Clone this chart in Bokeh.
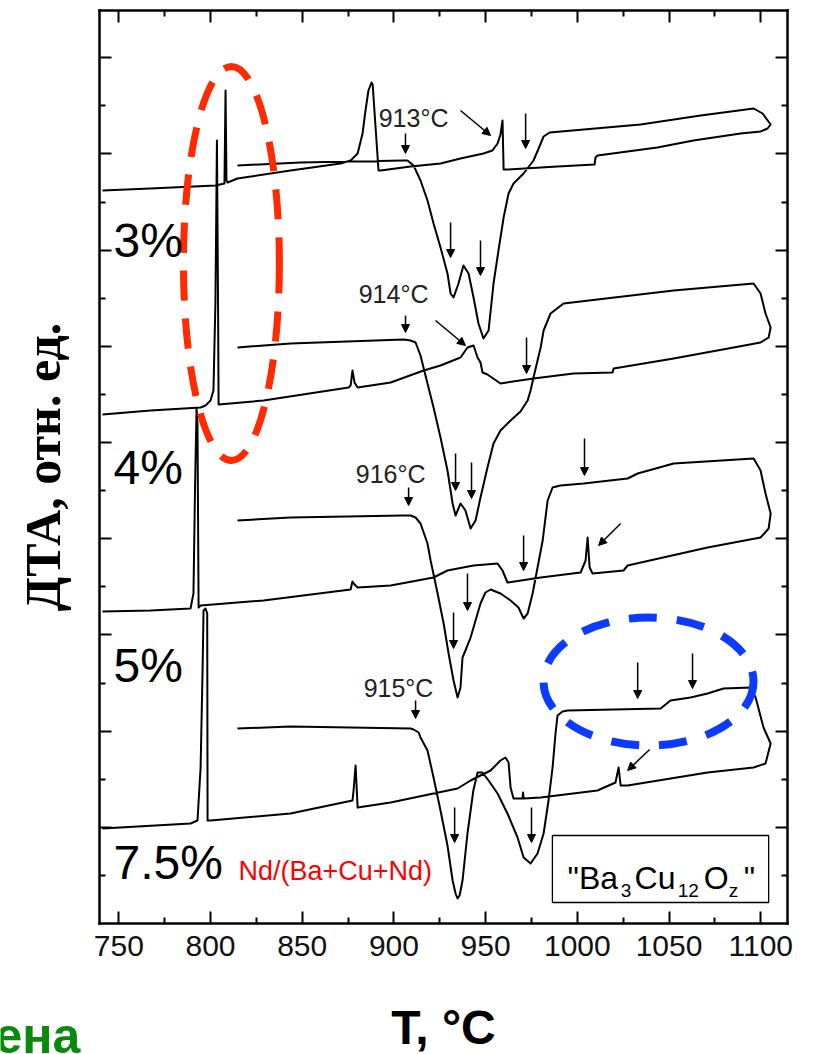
from bokeh.plotting import figure
from bokeh.models import (Range1d, LinearAxis, FixedTicker, Arrow, NormalHead,
                          ColumnDataSource, CustomLabelingPolicy)
from bokeh.core.properties import value
from bokeh.embed import file_html
from bokeh.resources import INLINE

# ---------------- DTA curves (temperature, signal in relative units) ----------------
# Each sample: heating run (lower T -> upper T, incl. the turn at the top of the run)
# followed by the cooling run (upper T -> lower T).

# 3 % Nd
t_heat_3 = [814.7, 849.0, 905.2, 907.4, 910.7, 914.5, 918.3, 921.6, 925.4, 929.2,
            930.9, 932.5, 935.2, 937.9, 940.7, 943.4, 946.1, 948.8, 951.6, 954.3,
            957.0, 959.8, 962.5, 965.2, 970.7, 976.1, 978.9, 981.6, 984.9, 1034.5,
            1067.2, 1096.1, 1101.0, 1105.4, 1103.7]
dta_heat_3 = [758, 761, 763, 763, 758, 743, 723, 700, 676, 650,
              630, 626, 640, 658, 650, 626, 600, 585, 593, 640,
              673, 706, 730, 740, 750, 763, 775, 787, 791, 799,
              808, 815, 810, 799, 795]
t_cool_3 = [1099.9, 1089.0, 1063.3, 1043.6, 1011.0, 1009.9, 1009.4, 989.2, 961.9, 959.8,
            959.2, 958.1, 956.5, 953.7, 948.8, 936.3, 925.4, 909.1, 892.7, 891.6,
            888.4, 887.8, 886.1, 884.5, 882.9, 880.2, 876.4, 870.9, 843.6, 814.7,
            809.3, 808.7, 808.2, 807.6, 802.7, 767.3, 741.1]
dta_cool_3 = [792, 790, 783, 776, 768, 766, 759, 757, 754, 754,
              803, 789, 780, 773, 770, 765, 760, 757, 753, 753,
              839, 841, 833, 813, 790, 770, 763, 760, 753, 745,
              741, 743, 833, 740, 738, 735, 733]

# 4 % Nd
t_heat_4 = [814.7, 843.6, 905.2, 909.1, 911.8, 914.5, 918.3, 921.6, 925.4, 929.2,
            932.0, 933.6, 935.2, 936.3, 939.0, 941.8, 944.5, 947.2, 951.0, 954.3,
            958.1, 963.6, 969.0, 972.9, 974.5, 976.1, 978.3, 980.0, 981.6, 985.4,
            992.5, 1052.5, 1096.1, 1099.9, 1102.6, 1105.4, 1104.3]
dta_heat_4 = [576, 580, 584, 583, 581, 568, 540, 516, 486, 453,
              420, 408, 415, 420, 413, 395, 403, 426, 456, 480,
              493, 503, 512, 523, 533, 546, 563, 576, 593, 610,
              620, 633, 640, 630, 610, 596, 586]
t_cool_4 = [1099.9, 1085.2, 1052.5, 1019.8, 1019.2, 997.9, 976.1, 958.1, 951.0, 948.3,
            947.2, 945.6, 943.4, 940.1, 936.3, 925.4, 916.2, 898.2, 880.2, 878.5,
            877.4, 876.4, 875.3, 828.9, 804.4, 804.1, 803.5, 802.7, 801.6, 800.0,
            797.3, 794.6, 767.3, 741.1]
dta_cool_4 = [581, 576, 565, 555, 551, 550, 545, 540, 549, 551,
              561, 566, 578, 576, 566, 558, 553, 541, 536, 541,
              553, 538, 536, 523, 519, 623, 783, 623, 533, 523,
              518, 516, 513, 509]

# 5 % Nd
t_heat_5 = [814.7, 843.6, 905.2, 909.1, 911.8, 914.5, 918.3, 920.0, 923.8, 927.1,
            929.8, 932.5, 934.7, 936.3, 937.4, 939.0, 941.8, 944.5, 947.2, 949.9,
            952.7, 958.1, 963.6, 967.9, 970.7, 972.9, 975.6, 978.3, 981.1, 983.8,
            986.5, 990.8, 1003.4, 1027.4, 1032.9, 1052.5, 1096.1, 1099.9, 1102.6, 1105.4,
            1104.3]
dta_heat_5 = [403, 406, 408, 408, 406, 400, 380, 363, 330, 300,
              270, 243, 226, 236, 266, 273, 286, 303, 320, 331,
              334, 330, 323, 316, 305, 310, 330, 356, 383, 423,
              436, 438, 440, 445, 450, 460, 465, 453, 430, 410,
              395]
t_cool_5 = [1099.9, 1071.0, 1027.4, 1025.2, 1008.3, 1006.7, 1005.6, 1004.5, 1001.8, 980.0,
            961.9, 959.2, 956.5, 943.4, 929.2, 921.6, 898.2, 880.2, 878.5, 877.4,
            876.4, 828.9, 794.6, 793.5, 792.9, 792.4, 791.6, 790.7, 789.1, 767.3,
            741.1]
dta_cool_5 = [386, 376, 358, 353, 350, 356, 386, 363, 351, 346,
              341, 353, 360, 358, 353, 346, 338, 336, 339, 342,
              334, 323, 318, 316, 500, 515, 440, 330, 315, 313,
              312]

# 7.5 % Nd
t_heat_7 = [814.7, 843.6, 909.1, 910.7, 913.5, 914.5, 918.3, 921.6, 925.4, 929.2,
            932.0, 933.6, 934.7, 935.8, 937.4, 940.1, 943.3, 945.6, 948.3, 951.6,
            956.5, 961.9, 967.4, 970.7, 974.5, 978.3, 981.6, 984.3, 986.5, 988.1,
            989.2, 991.9, 994.7, 1045.4, 1050.8, 1061.7, 1071.0, 1079.7, 1094.5, 1097.2,
            1101.5, 1105.4, 1102.6]
dta_heat_7 = [195, 197, 195, 194, 191, 186, 173, 146, 113, 78,
              43, 30, 25, 28, 43, 90, 133, 151, 151, 143,
              130, 110, 86, 66, 60, 70, 90, 123, 156, 190,
              208, 212, 213, 215, 223, 226, 230, 235, 236, 226,
              196, 180, 160]
t_cool_7 = [1096.1, 1071.0, 1027.4, 1023.6, 1022.5, 1020.8, 1011.0, 980.0, 970.7, 970.4,
            970.1, 965.2, 963.6, 962.5, 960.8, 958.1, 952.7, 947.2, 941.8, 934.7,
            921.6, 898.2, 880.2, 879.1, 878.0, 877.4, 843.6, 800.0, 798.4, 798.2,
            797.3, 796.2, 795.7, 794.6, 792.9, 789.1, 741.1]
dta_cool_7 = [156, 151, 138, 138, 156, 141, 133, 126, 125, 131,
              125, 125, 136, 161, 166, 163, 153, 148, 143, 135,
              130, 121, 116, 158, 133, 123, 110, 103, 103, 310,
              315, 313, 256, 156, 103, 100, 95]

samples = ["3%", "4%", "5%", "7.5%"]
runs = [(t_heat_3, dta_heat_3, t_cool_3, dta_cool_3),
        (t_heat_4, dta_heat_4, t_cool_4, dta_cool_4),
        (t_heat_5, dta_heat_5, t_cool_5, dta_cool_5),
        (t_heat_7, dta_heat_7, t_cool_7, dta_cool_7)]

# onset temperatures of melting, one per sample
onset_labels = ["913°C", "914°C", "916°C", "915°C"]

# thermal-event markers (arrow tail -> arrow tip)
arrow_t0 = [906.3, 930.9, 947.2, 971.8, 936.3, 906.3, 922.7, 933.6, 942.3, 972.3, 908.0,
            932.5, 940.1, 970.7, 1003.9, 1023.6, 911.8, 933.1, 975.0, 1032.9, 1062.8, 1039.4]
arrow_v0 = [790, 701, 683, 810, 813, 608, 603, 470, 461, 586, 436,
            311, 350, 388, 485, 400, 223, 116, 116, 261, 270, 174]
arrow_t1 = [906.3, 930.9, 947.2, 971.8, 952.7, 906.3, 939.0, 933.6, 942.3, 972.3, 908.0,
            932.5, 940.1, 970.7, 1003.9, 1011.6, 911.8, 933.1, 975.0, 1032.9, 1062.8, 1027.4]
arrow_v1 = [770, 666, 648, 775, 788, 591, 578, 433, 425, 550, 418,
            275, 313, 353, 448, 378, 205, 81, 81, 225, 235, 153]

x_major = [750, 800, 850, 900, 950, 1000, 1050, 1100]
x_minor = [775, 825, 875, 925, 975, 1025, 1075]
y_step = 96.2
y_major = [y_step * k for k in range(1, 10)]
y_minor = [y_step * k + y_step / 2 for k in range(0, 9)]

# plotting box in data units
T_LO, T_HI = 739.5, 1114.6
S_LO, S_HI = 0.0, 913.0

SANS = "Liberation Sans"

# The frame covers the whole canvas; the box is made of four axes pinned to
# the box edges, so the titles below/left of it are drawn inside the canvas.
p = figure(width=814, height=1054,
           x_range=Range1d(685.5, 1129.3), y_range=Range1d(-131, 923),
           output_backend="svg", toolbar_location=None,
           x_axis_location=None, y_axis_location=None,
           min_border_left=0, min_border_right=0,
           min_border_top=0, min_border_bottom=0)
p.grid.visible = False
p.background_fill_color = "white"
p.border_fill_color = "white"
p.outline_line_color = None

xt = FixedTicker(ticks=x_major, minor_ticks=x_minor)
yt = FixedTicker(ticks=y_major, minor_ticks=y_minor)


def box_axis(location, bounds, ticker, show_labels=False):
    ax = LinearAxis(fixed_location=location, bounds=bounds, ticker=ticker)
    ax.axis_line_color = "black"
    ax.axis_line_width = 2.5
    ax.axis_line_cap = "square"
    ax.major_tick_in = 12
    ax.major_tick_out = 0
    ax.minor_tick_in = 6
    ax.minor_tick_out = 0
    ax.major_tick_line_width = 2
    ax.minor_tick_line_width = 2
    ax.major_tick_line_color = "black"
    ax.minor_tick_line_color = "black"
    if not show_labels:
        # tick marks only, no numbers on this side
        ax.major_label_policy = CustomLabelingPolicy(code="return;")
        ax.major_label_text_font_size = "0px"
        ax.major_label_standoff = 0
    return ax


bottom = box_axis(S_LO, (T_LO, T_HI), xt, show_labels=True)
bottom.major_label_text_font = SANS
bottom.major_label_text_font_size = "30px"
bottom.major_label_text_color = "#111111"
bottom.major_label_standoff = 12
bottom.axis_label = "T, °C"
bottom.axis_label_text_font = SANS
bottom.axis_label_text_font_style = "bold"
bottom.axis_label_text_font_size = "48px"
bottom.axis_label_text_color = "black"
bottom.axis_label_standoff = 42
p.add_layout(bottom, "below")

left = box_axis(T_LO, (S_LO, S_HI), yt)
left.axis_label = "ДТА, отн. ед."
left.axis_label_text_font = "Liberation Serif"
left.axis_label_text_font_style = "bold"
left.axis_label_text_font_size = "50px"
left.axis_label_text_color = "black"
left.axis_label_standoff = 29
p.add_layout(left, "left")

p.add_layout(box_axis(S_HI, (T_LO, T_HI), xt), "above")
p.add_layout(box_axis(T_HI, (S_LO, S_HI), yt), "right")

# ---------------- curves ----------------
for th, vh, tc, vc in runs:
    p.line(th + tc, vh + vc, line_color="black", line_width=2.0, line_join="round")

# ---------------- highlight ellipses ----------------
p.ellipse(x=[811.4], y=[660], width=[52.3], height=[394], fill_color=None,
          line_color="#FF2A00", line_width=7, line_dash="30 18")
p.ellipse(x=[1038.8], y=[242], width=[114.5], height=[128], fill_color=None,
          line_color="#0B3BFF", line_width=8, line_dash="28 20")

# ---------------- event arrows ----------------
arrows = ColumnDataSource(dict(x0=arrow_t0, y0=arrow_v0, x1=arrow_t1, y1=arrow_v1))
p.add_layout(Arrow(source=arrows, x_start="x0", y_start="y0", x_end="x1", y_end="y1",
                   line_color="black", line_width=1.5,
                   end=NormalHead(size=8, fill_color="black", line_color="black",
                                  line_width=1)))

# ---------------- texts ----------------
p.text(x=[910.7, 899.8, 898.2, 902.5], y=[806, 630, 450, 236], text=onset_labels,
       text_font=value(SANS), text_font_size="25px", text_color="#222222",
       text_align="center", text_baseline="middle")

p.text(x=[747.1, 747.1, 747.1, 747.1], y=[683, 456, 258, 61], text=samples,
       text_font=value(SANS), text_font_size="48px", text_color="black",
       text_align="left", text_baseline="middle")

p.text(x=[815.2], y=[53], text=["Nd/(Ba+Cu+Nd)"],
       text_font=value(SANS), text_font_size="27px", text_color="#FF0000",
       text_align="left", text_baseline="middle")

# composition box: "Ba3Cu12Oz" with subscripts
p.quad(left=[986.4], right=[1104.3], bottom=[21], top=[88],
       fill_color="white", line_color="black", line_width=1.3)
p.text(x=[994.7, 1031.2, 1068.9, 1090.7], y=[46, 46, 46, 46],
       text=['"Ba', "Cu", "O", '"'],
       text_font=value(SANS), text_font_size="32px", text_color="black",
       text_align="left", text_baseline="alphabetic")
p.text(x=[1023.6, 1054.7, 1082.5], y=[33, 33, 33], text=["3", "12", "z"],
       text_font=value(SANS), text_font_size="19px", text_color="black",
       text_align="left", text_baseline="alphabetic")

# fragment of the slide caption at the lower left
p.text(x=[682.2], y=[-112], text=["ена"],
       text_font=value(SANS), text_font_size="50px", text_font_style="bold",
       text_color="#0A8A0A", text_align="left", text_baseline="alphabetic")

open("out.html", "w").write(file_html(p, INLINE))
